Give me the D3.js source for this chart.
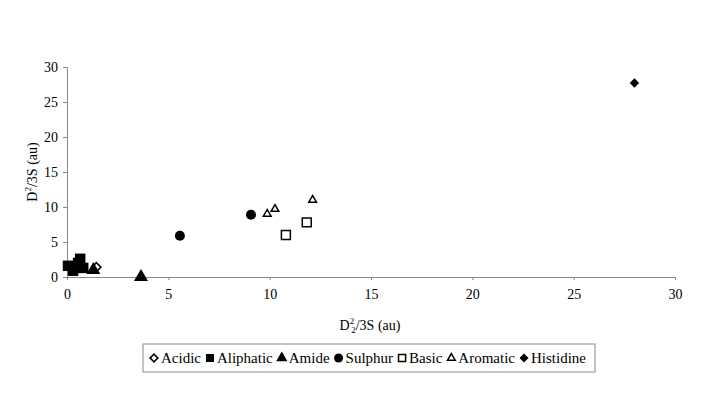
<!DOCTYPE html>
<html>
<head>
<meta charset="utf-8">
<script src="https://cdn.jsdelivr.net/npm/d3@7"></script>
<style>
body{margin:0;background:#fff;}
</style>
</head>
<body>
<div id="chart"></div>
<script>
// series values
var seriesNames = ["Acidic","Aliphatic","Amide","Sulphur","Basic","Aromatic","Histidine"];
var acidic = [[1.45,1.4]];
var aliphatic = [[0.05,1.6],[0.3,0.9],[0.55,2.0],[0.65,2.6],[0.8,1.3]];
var amide = [[1.3,1.0],[3.65,0.0]];
var sulphur = [[5.57,5.9],[9.08,8.9]];
var basic = [[10.8,6.0],[11.83,7.8]];
var aromatic = [[9.88,9.0],[10.26,9.7],[12.12,11.0]];
var histidine = [[28.0,27.7]];
var xTicks = [0,5,10,15,20,25,30];
var yTicks = [0,5,10,15,20,25,30];

var serif = "'Liberation Serif', 'Times New Roman'";
var width = 704, height = 396;
var svg = d3.select("#chart").append("svg")
	.attr("width", width).attr("height", height)
	.style("font-family", serif);

var x = d3.scaleLinear().domain([0,30]).range([67,675]);
var y = d3.scaleLinear().domain([0,30]).range([277,67]);

function styleAxis(g){
	g.attr("font-family", null);
	g.select(".domain").attr("stroke","#888");
	g.selectAll(".tick line").attr("stroke","#888");
	g.selectAll("text").attr("font-size","14px").attr("fill","#000").style("font-family", serif);
}

svg.append("g").attr("transform","translate(0,277)")
	.call(d3.axisBottom(x).tickValues(xTicks).tickSize(3).tickPadding(9).tickSizeOuter(0))
	.call(styleAxis);
svg.append("g").attr("transform","translate(67,0)")
	.call(d3.axisLeft(y).tickValues(yTicks).tickSize(4).tickPadding(5).tickSizeOuter(0))
	.call(styleAxis);

// axis titles
var xt = svg.append("text").attr("x",370).attr("y",330).attr("text-anchor","middle")
	.attr("font-size","14px").style("font-family", serif);
xt.append("tspan").text("D");
xt.append("tspan").attr("dy",-6).attr("font-size","9px").text("2");
xt.append("tspan").attr("dy",9).attr("dx",-3).attr("font-size","9px").text("2");
xt.append("tspan").attr("dy",-3).text("/3S (au)");

var yt = svg.append("text").attr("transform","translate(37,172) rotate(-90)").attr("text-anchor","middle")
	.attr("font-size","14px").style("font-family", serif);
yt.append("tspan").text("D");
yt.append("tspan").attr("dy",-6).attr("font-size","9px").text("2");
yt.append("tspan").attr("dy",6).text("/3S (au)");

// marker styles; diamonds are squares turned 45 degrees
var styles = {
	Acidic:{type:d3.symbolSquare, rot:45, size:40, fill:"#fff", stroke:"#000", sw:1.6},
	Aliphatic:{type:d3.symbolSquare, rot:0, size:110, fill:"#000", stroke:"#000", sw:0},
	Amide:{type:d3.symbolTriangle, rot:0, size:85, fill:"#000", stroke:"#000", sw:0},
	Sulphur:{type:d3.symbolCircle, rot:0, size:80, fill:"#000", stroke:"#000", sw:0},
	Basic:{type:d3.symbolSquare, rot:0, size:80, fill:"#fff", stroke:"#000", sw:1.5},
	Aromatic:{type:d3.symbolTriangle, rot:0, size:26, fill:"#fff", stroke:"#000", sw:1.5},
	Histidine:{type:d3.symbolSquare, rot:45, size:45, fill:"#000", stroke:"#000", sw:0}
};
var allData = [acidic,aliphatic,amide,sulphur,basic,aromatic,histidine];

allData.forEach(function(pts,i){
	var st = styles[seriesNames[i]];
	svg.append("g").selectAll("path").data(pts).enter().append("path")
		.attr("d", d3.symbol().type(st.type).size(st.size))
		.attr("transform", function(d){ return "translate(" + x(d[0]) + "," + y(d[1]) + ") rotate(" + st.rot + ")"; })
		.attr("fill", st.fill).attr("stroke", st.stroke).attr("stroke-width", st.sw);
});

// legend, spread to fill the box from 143 to 595
var legend = svg.append("g");
var lx = 143, ly = 344, lw = 452;
legend.append("rect").attr("x",lx).attr("y",ly).attr("width",lw).attr("height",28)
	.attr("fill","#fff").attr("stroke","#888").attr("stroke-width",1);
var legendSize = {Acidic:30, Aliphatic:64, Amide:55, Sulphur:64, Basic:50, Aromatic:26, Histidine:40};
var texts = seriesNames.map(function(name){
	return legend.append("text").attr("y", ly+19).attr("font-size","15px")
		.attr("fill","#000").style("font-family", serif).text(name);
});
var totalText = d3.sum(texts, function(t){ return t.node().getComputedTextLength(); });
var gap = (lw - 14 - totalText - seriesNames.length*13) / (seriesNames.length - 1);
var cx = lx + 11;
seriesNames.forEach(function(name,i){
	var st = styles[name];
	legend.append("path")
		.attr("d", d3.symbol().type(st.type).size(legendSize[name]))
		.attr("transform","translate(" + cx + "," + (ly+14) + ") rotate(" + st.rot + ")")
		.attr("fill", st.fill).attr("stroke", st.stroke).attr("stroke-width", st.sw);
	texts[i].attr("x", cx+7);
	cx = cx + 13 + texts[i].node().getComputedTextLength() + gap;
});
</script>
</body>
</html>
